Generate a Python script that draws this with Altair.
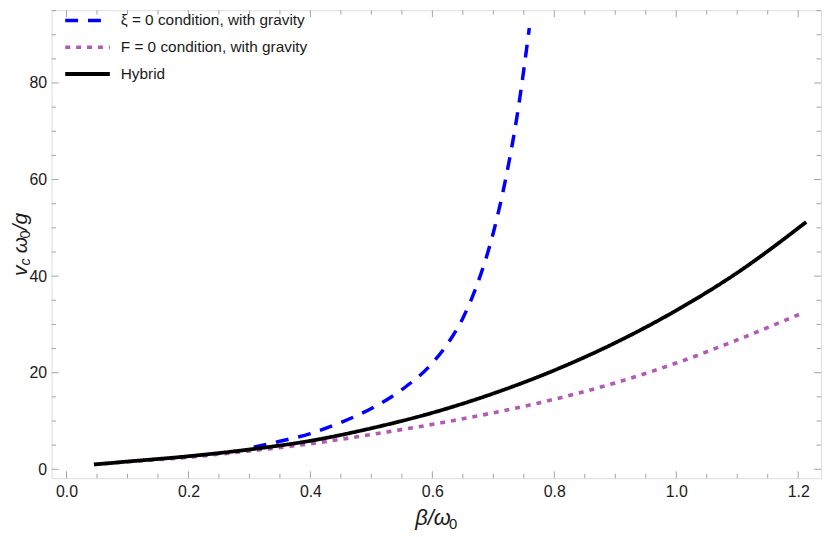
import altair as alt
import pandas as pd

# ---------------- data ----------------
series_names = ["ξ = 0 condition, with gravity", "F = 0 condition, with gravity", "Hybrid"]

xi_x = [0.307, 0.35, 0.40, 0.45, 0.50, 0.55, 0.60, 0.625, 0.65, 0.675, 0.70, 0.72, 0.74, 0.759]
xi_y = [4.6, 5.8, 7.4, 9.7, 12.6, 16.5, 22.0, 26.0, 31.3, 38.8, 49.0, 60.0, 74.0, 91.4]

f_x = [0.045, 0.1, 0.2, 0.3, 0.4, 0.5, 0.6, 0.7, 0.8, 0.9, 1.0, 1.1, 1.204]
f_y = [1.0, 1.55, 2.5, 3.8, 5.3, 7.2, 9.3, 11.7, 14.5, 17.9, 22.0, 26.8, 32.2]

hyb_x = [0.045, 0.1, 0.2, 0.3, 0.4, 0.5, 0.6, 0.7, 0.8, 0.9, 1.0, 1.1, 1.213]
hyb_y = [1.0, 1.6, 2.7, 4.1, 5.9, 8.5, 11.7, 15.7, 20.5, 26.2, 32.9, 40.7, 51.2]

x_major = [0.0, 0.2, 0.4, 0.6, 0.8, 1.0, 1.2]
x_minor = [0.05, 0.1, 0.15, 0.25, 0.3, 0.35, 0.45, 0.5, 0.55, 0.65, 0.7, 0.75,
           0.85, 0.9, 0.95, 1.05, 1.1, 1.15]
y_major = [0, 20, 40, 60, 80]
y_minor = [5, 10, 15, 25, 30, 35, 45, 50, 55, 65, 70, 75, 85, 90, 95]

# ---------------- styling ----------------
colors = ["#0000ff", "#b35ab5", "#000000"]
dashes = [[13, 10], [5, 6], [1, 0]]
widths = [3.5, 3.8, 3.2]
frame = "#a3a3a3"
txt = "#1a1a1a"
FONT = "Liberation Sans"
W, H = 776, 472

rows = []
for name, xs, ys in zip(series_names, [xi_x, f_x, hyb_x], [xi_y, f_y, hyb_y]):
    for i, (a, b) in enumerate(zip(xs, ys)):
        rows.append({"series": name, "x": a, "y": b, "i": i})
df = pd.DataFrame(rows)

xscale = alt.Scale(domain=[-0.0244, 1.2374], nice=False, zero=False)
yscale = alt.Scale(domain=[-1.85, 95.07], nice=False, zero=False)

leg = alt.Legend(title=None, orient="none", legendX=11.7, legendY=0.3,
                 symbolType="stroke", symbolSize=2025, symbolStrokeWidth=2,
                 clipHeight=20, rowPadding=7, labelOffset=9,
                 labelFontSize=15.5, labelFont=FONT, labelColor=txt,
                 padding=0, labelLimit=400)

xaxis = alt.Axis(values=x_major, format=".1f", domain=False, ticks=False,
                 tickSize=0, grid=False, labelPadding=5, labelFontSize=16,
                 labelFont=FONT, labelColor=txt, title=None)
yaxis = alt.Axis(values=y_major, format="d", domain=False, ticks=False,
                 tickSize=0, grid=False, labelPadding=5, labelFontSize=16,
                 labelFont=FONT, labelColor=txt, title=None)

lines = alt.Chart(df).mark_line(interpolate="monotone", strokeCap="butt").encode(
    x=alt.X("x:Q", scale=xscale, axis=xaxis),
    y=alt.Y("y:Q", scale=yscale, axis=yaxis),
    color=alt.Color("series:N", scale=alt.Scale(domain=series_names, range=colors), legend=leg),
    strokeDash=alt.StrokeDash("series:N", scale=alt.Scale(domain=series_names, range=dashes), legend=leg),
    strokeWidth=alt.StrokeWidth("series:N", scale=alt.Scale(domain=series_names, range=widths), legend=None),
    order="i:Q",
)

def xticks(vals, length):
    d = pd.DataFrame({"v": vals})
    bottom = alt.Chart(d).mark_rule(color=frame, strokeWidth=1).encode(
        x=alt.X("v:Q", scale=xscale, axis=xaxis), y=alt.value(H), y2=alt.value(H - length))
    top = alt.Chart(d).mark_rule(color=frame, strokeWidth=1).encode(
        x=alt.X("v:Q", scale=xscale, axis=xaxis), y=alt.value(0), y2=alt.value(length))
    return [bottom, top]

def yticks(vals, length):
    d = pd.DataFrame({"v": vals})
    left = alt.Chart(d).mark_rule(color=frame, strokeWidth=1).encode(
        y=alt.Y("v:Q", scale=yscale, axis=yaxis), x=alt.value(0), x2=alt.value(length))
    right = alt.Chart(d).mark_rule(color=frame, strokeWidth=1).encode(
        y=alt.Y("v:Q", scale=yscale, axis=yaxis), x=alt.value(W), x2=alt.value(W - length))
    return [left, right]

def label(text, x, y, size, angle=0, italic=True):
    kw = dict(align="left", baseline="alphabetic", fontSize=size, font=FONT,
              color=txt, angle=angle)
    if italic:
        kw["fontStyle"] = "italic"
    return alt.Chart(pd.DataFrame({"t": [text]})).mark_text(**kw).encode(
        text="t:N", x=alt.value(x), y=alt.value(y))

# axis titles with real subscripts
titles = [
    label("β/ω", 366.7, 519, 22),
    label("0", 400.9, 523, 15, italic=False),
    label("v", -25, 268.0, 21, angle=270),
    label("c", -21.5, 257.5, 14.5, angle=270),
    label("ω", -25, 245.0, 21, angle=270),
    label("0", -21.5, 230.2, 14.5, angle=270, italic=False),
    label("/g", -25, 222.0, 21, angle=270),
]

layers = xticks(x_major, 7) + xticks(x_minor, 4.5) + yticks(y_major, 7) + yticks(y_minor, 4.5)
chart = alt.layer(lines, *layers, *titles).properties(
    width=W, height=H,
    autosize=alt.AutoSizeParams(type="none"),
    padding={"left": 44, "top": 0, "right": 1, "bottom": 54},
).configure_view(stroke=frame, strokeWidth=1).configure(background="white")

chart.save("out.html", embed_options={"renderer": "svg", "actions": False})
